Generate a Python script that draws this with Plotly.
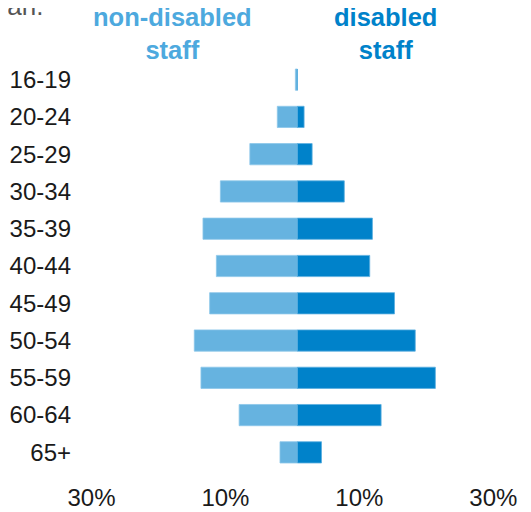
import plotly.graph_objects as go

age_groups = ["16-19", "20-24", "25-29", "30-34", "35-39", "40-44",
              "45-49", "50-54", "55-59", "60-64", "65+"]
non_disabled = [0.3, 3.0, 7.1, 11.5, 14.1, 12.1, 13.1, 15.4, 14.4, 8.7, 2.6]
disabled = [0.0, 1.0, 2.2, 7.0, 11.2, 10.8, 14.5, 17.6, 20.6, 12.5, 3.6]
tick_values = [-30, -10, 10, 30]
tick_labels = ["30%", "10%", "10%", "30%"]

LIGHT = "#66B3E0"
DARK = "#0082CA"
FONT = "Liberation Sans, Arial, sans-serif"

fig = go.Figure()
fig.add_trace(go.Bar(
    y=age_groups, x=[-v for v in non_disabled], orientation="h",
    marker=dict(color=LIGHT, line=dict(color="#8CC6EA", width=0.8)),
    name="non-disabled staff", showlegend=False,
))
fig.add_trace(go.Bar(
    y=age_groups, x=disabled, orientation="h",
    marker=dict(color=DARK, line=dict(color="#5AAEE0", width=0.8)),
    name="disabled staff", showlegend=False,
))

fig.update_layout(
    width=523, height=504,
    margin=dict(l=68, r=26, t=53, b=41, autoexpand=False),
    barmode="relative", bargap=0.43,
    plot_bgcolor="white", paper_bgcolor="white",
    font=dict(family=FONT, color="#1a1a1a", size=24),
    xaxis=dict(range=[-33.06, 31], tickvals=tick_values, ticktext=tick_labels,
               showgrid=False, zeroline=False, showline=False, ticks="",
               ticklabelshift=-5, ticklabelstandoff=10,
               tickfont=dict(size=24, color="#1a1a1a")),
    yaxis=dict(categoryorder="array", categoryarray=age_groups,
               range=[10.5, -0.5], showgrid=False, zeroline=False,
               showline=False, ticks="", ticklabelstandoff=4,
               tickfont=dict(size=24, color="#1a1a1a")),
    annotations=[
        dict(text="non-disabled<br>staff", xref="x", yref="paper",
             x=-18.66, y=1.066, xanchor="center", yanchor="middle",
             showarrow=False,
             font=dict(size=25.5, color="#4DA9DE", family=FONT, weight="bold")),
        dict(text="disabled<br>staff", xref="x", yref="paper",
             x=13.2, y=1.066, xanchor="center", yanchor="middle",
             showarrow=False,
             font=dict(size=25.5, color="#0082CA", family=FONT, weight="bold")),
        dict(text="tan.", xref="paper", yref="paper",
             x=-0.182, y=1.133, xanchor="left", yanchor="middle",
             showarrow=False,
             font=dict(size=26, color="#555555", family=FONT)),
    ],
)

fig.write_html("out.html")
